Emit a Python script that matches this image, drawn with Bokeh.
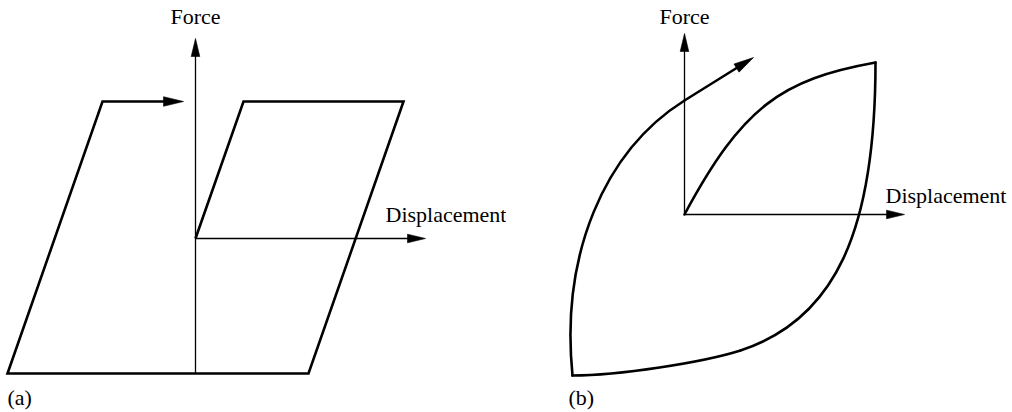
import math
from bokeh.plotting import figure
from bokeh.layouts import row
from bokeh.models import Label, Range1d
from bokeh.embed import file_html
from bokeh.resources import INLINE

# ---------------- data (diagram units, origin at axes crossing) ----------------
# Panel (a): bilinear (elasto-plastic) hysteresis loop
a_loop_x = [0, 48, 208, 113, -188, -93]
a_loop_y = [0, 137, 137, -135, -135, 137]
a_loop_tip = [-12, 137]
a_force_axis = [-135, 200]      # vertical axis from / to
a_disp_axis = [0, 230]          # horizontal axis from / to

# Panel (b): curvilinear hysteresis loop, cubic Bezier segments
b_x0 = [0, 191, 56, -112]
b_y0 = [0, 152, -136, -161]
b_cx0 = [58, 191, 18, -124]
b_cy0 = [108, -18, -148, -41]
b_cx1 = [97, 150, -66, -81]
b_cy1 = [135, -105, -161, 63]
b_x1 = [191, 56, -112, 0]
b_y1 = [152, -136, -161, 114]
b_tail = [0, 114]
b_tip = [69, 157]
b_force_axis = [0, 181]
b_disp_axis = [0, 220]

axis_labels = ["Force", "Displacement"]
panel_labels = ["(a)", "(b)"]

FONT = "Liberation Serif"
FSIZE = "22px"
THICK = 2.6
THIN = 1.3
TEXT_LIFT = 7   # compensates renderer baseline offset


def make_fig(xr, yr):
    p = figure(width=506, height=412, x_range=Range1d(*xr), y_range=Range1d(*yr),
               output_backend="svg", toolbar_location=None, title=None, tools="",
               x_axis_location=None, y_axis_location=None, min_border=0,
               outline_line_color=None, background_fill_color="white",
               border_fill_color="white")
    p.xgrid.visible = False
    p.ygrid.visible = False
    return p


def arrow_head(p, tip, frm, length, half):
    dx, dy = tip[0] - frm[0], tip[1] - frm[1]
    n = math.hypot(dx, dy)
    ux, uy = dx / n, dy / n
    bx, by = tip[0] - length * ux, tip[1] - length * uy
    px, py = -uy, ux
    p.patch([tip[0], bx + half * px, bx - half * px],
            [tip[1], by + half * py, by - half * py],
            fill_color="black", line_color="black", line_width=0.6)
    return bx + 2 * ux, by + 2 * uy


def text(p, x, y, s, align):
    p.add_layout(Label(x=x, y=y + TEXT_LIFT, text=s, text_font=FONT,
                       text_font_size=FSIZE, text_align=align,
                       text_baseline="alphabetic", text_color="black"))


# ---------------- panel (a) ----------------
pa = make_fig((-195, 311), (-174, 238))
bx, by = arrow_head(pa, (0, a_force_axis[1]), (0, a_force_axis[0]), 18, 4.3)
pa.line([0, bx], [a_force_axis[0], by], line_color="black", line_width=THIN)
bx, by = arrow_head(pa, (a_disp_axis[1], 0), (a_disp_axis[0], 0), 18, 4.3)
pa.line([a_disp_axis[0], bx], [0, by], line_color="black", line_width=THIN)

bx, by = arrow_head(pa, tuple(a_loop_tip), (a_loop_x[-1], a_loop_y[-1]), 20, 4.8)
pa.line(a_loop_x + [bx], a_loop_y + [by], line_color="black", line_width=THICK,
        line_join="miter")

text(pa, 0, 215, axis_labels[0], "center")
text(pa, 190, 17, axis_labels[1], "left")
text(pa, -188, -165.5, panel_labels[0], "left")

# ---------------- panel (b) ----------------
pb = make_fig((-178, 328), (-198, 214))
bx, by = arrow_head(pb, (0, b_force_axis[1]), (0, b_force_axis[0]), 18, 4.3)
pb.line([0, bx], [b_force_axis[0], by], line_color="black", line_width=THIN)
bx, by = arrow_head(pb, (b_disp_axis[1], 0), (b_disp_axis[0], 0), 18, 4.3)
pb.line([b_disp_axis[0], bx], [0, by], line_color="black", line_width=THIN)

pb.bezier(x0=b_x0, y0=b_y0, x1=b_x1, y1=b_y1, cx0=b_cx0, cy0=b_cy0,
          cx1=b_cx1, cy1=b_cy1, line_color="black", line_width=THICK,
          line_cap="round")
bx, by = arrow_head(pb, tuple(b_tip), tuple(b_tail), 20, 4.8)
pb.line([b_tail[0], bx], [b_tail[1], by], line_color="black", line_width=THICK,
        line_cap="round")

text(pb, 0, 191, axis_labels[0], "center")
text(pb, 201, 12, axis_labels[1], "left")
text(pb, -116, -190, panel_labels[1], "left")

layout = row(pa, pb, spacing=0)
open("out.html", "w").write(file_html(layout, INLINE))
